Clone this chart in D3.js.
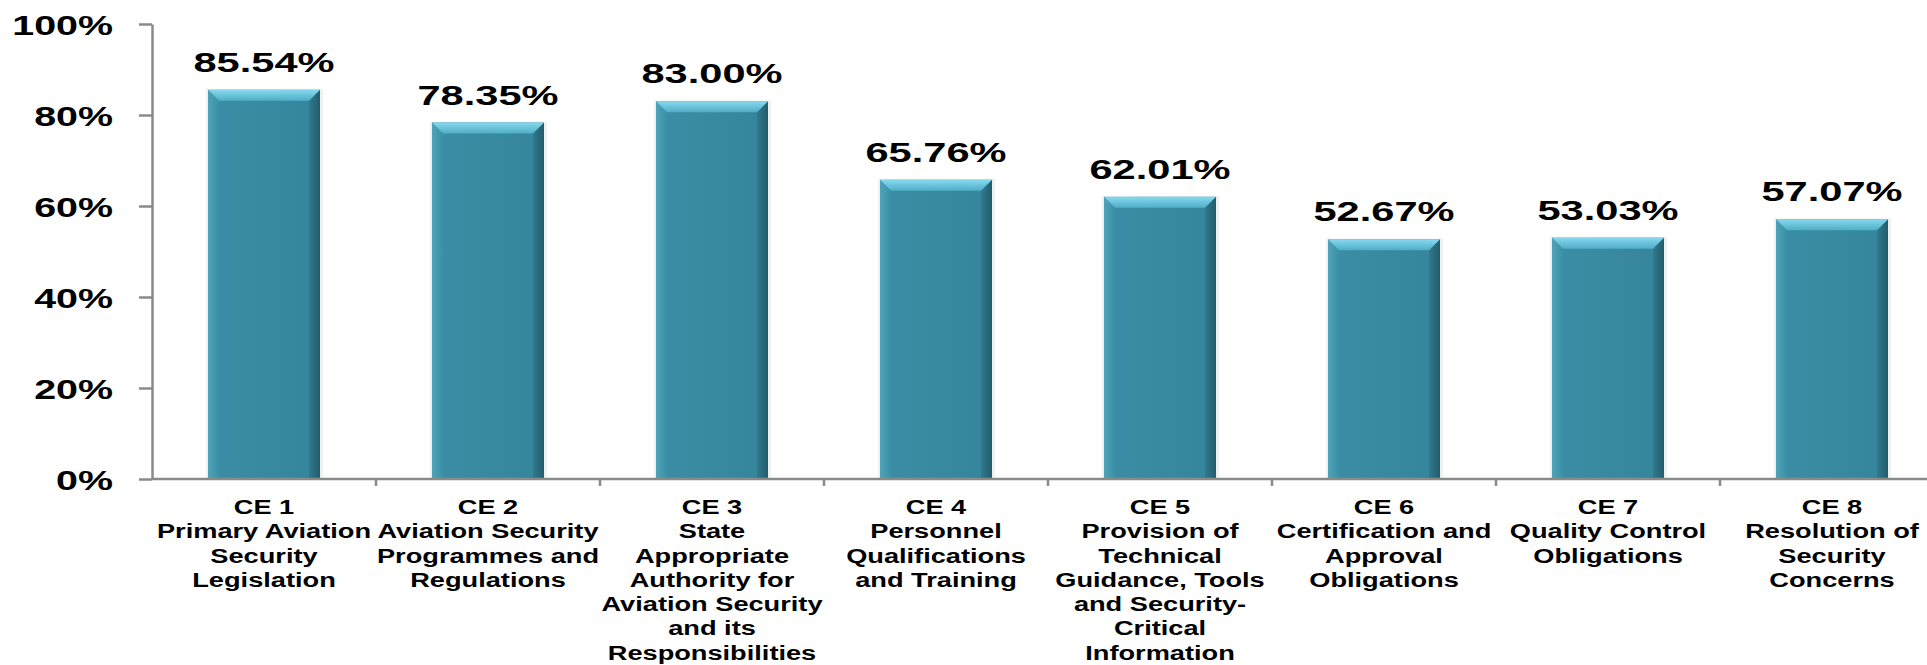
<!DOCTYPE html>
<html>
<head>
<meta charset="utf-8">
<script src="https://cdn.jsdelivr.net/npm/d3@7"></script>
<style>
  html, body { margin: 0; padding: 0; background: #fff; overflow: hidden; }
  text { font-family: "Liberation Sans", Arial, sans-serif; font-weight: bold; fill: #000; }
</style>
</head>
<body>
<svg id="chart" width="1927" height="665"></svg>
<script>
// chart data
const categories = ['CE 1', 'CE 2', 'CE 3', 'CE 4', 'CE 5', 'CE 6', 'CE 7', 'CE 8'];
const descriptions = [
  ['Primary Aviation', 'Security', 'Legislation'],
  ['Aviation Security', 'Programmes and', 'Regulations'],
  ['State', 'Appropriate', 'Authority for', 'Aviation Security', 'and its', 'Responsibilities'],
  ['Personnel', 'Qualifications', 'and Training'],
  ['Provision of', 'Technical', 'Guidance, Tools', 'and Security-', 'Critical', 'Information'],
  ['Certification and', 'Approval', 'Obligations'],
  ['Quality Control', 'Obligations'],
  ['Resolution of', 'Security', 'Concerns']
];
const values = [85.54, 78.35, 83.00, 65.76, 62.01, 52.67, 53.03, 57.07];
const yTicks = [0, 20, 40, 60, 80, 100];

const svg = d3.select('#chart');
// plot runs off the right edge like the source
const plotLeft = 152, plotTop = 24, plotBottom = 479, plotRight = 1944;

const x = d3.scaleBand().domain(categories).range([plotLeft, plotRight]).paddingInner(0.5).paddingOuter(0.25);
const y = d3.scaleLinear().domain([0, 100]).range([plotBottom, plotTop]);

// gradients for the bevelled bars
const defs = svg.append('defs');
const grad = (id, x2, y2, stops) => {
  const g = defs.append('linearGradient').attr('id', id)
    .attr('x1', 0).attr('y1', 0).attr('x2', x2).attr('y2', y2);
  stops.forEach(([o, c]) => g.append('stop').attr('offset', o).attr('stop-color', c));
};
grad('face', 1, 0, [[0, '#3a8ea5'], [0.5, '#388aa0'], [1, '#35859b']]);
grad('topBevel', 0, 1, [[0, '#86d9ee'], [1, '#4fadc7']]);
grad('rightBevel', 1, 0, [[0, '#32798d'], [1, '#235d6d']]);
grad('leftBevel', 1, 0, [[0, '#4ea3ba'], [1, '#3b90a7']]);

const bw = x.bandwidth();
const bev = 11;

const bars = svg.append('g').attr('class', 'bars')
  .selectAll('g').data(categories).join('g');

// soft shadow
bars.append('rect')
  .attr('x', c => x(c) - 2).attr('y', (c, i) => y(values[i]) - 1)
  .attr('width', bw + 5).attr('height', (c, i) => y(0) - y(values[i]) + 1)
  .attr('fill', '#000').attr('opacity', 0.06);

bars.append('rect')
  .attr('x', c => x(c)).attr('y', (c, i) => y(values[i]))
  .attr('width', bw).attr('height', (c, i) => y(0) - y(values[i]))
  .attr('fill', 'url(#face)');

bars.append('polygon')
  .attr('points', (c, i) => {
    const x0 = x(c), yt = y(values[i]), yb = y(0);
    return [[x0, yt], [x0 + bev, yt + bev], [x0 + bev, yb], [x0, yb]].join(' ');
  })
  .attr('fill', 'url(#leftBevel)');

bars.append('polygon')
  .attr('points', (c, i) => {
    const x1 = x(c) + bw, yt = y(values[i]), yb = y(0);
    return [[x1, yt], [x1 - bev, yt + bev], [x1 - bev, yb], [x1, yb]].join(' ');
  })
  .attr('fill', 'url(#rightBevel)');

bars.append('polygon')
  .attr('points', (c, i) => {
    const x0 = x(c), x1 = x0 + bw, yt = y(values[i]);
    return [[x0, yt], [x1, yt], [x1 - bev, yt + bev], [x0 + bev, yt + bev]].join(' ');
  })
  .attr('fill', 'url(#topBevel)');

// value labels
bars.append('text')
  .attr('transform', (c, i) => `translate(${x(c) + bw / 2},${y(values[i]) - 18}) scale(1.54,1)`)
  .attr('text-anchor', 'middle')
  .style('font-size', '27px')
  .text((c, i) => values[i].toFixed(2) + '%');

// y axis
const axisColor = '#8a8a8a';
const yAxis = svg.append('g')
  .attr('transform', `translate(${plotLeft},0)`)
  .call(d3.axisLeft(y).tickValues(yTicks).tickSize(13).tickSizeOuter(0).tickFormat(d => d + '%'));
yAxis.attr('font-size', null).attr('font-family', null);
yAxis.select('.domain').attr('stroke', axisColor).attr('stroke-width', 2.5);
yAxis.selectAll('.tick line').attr('stroke', axisColor).attr('stroke-width', 2.5);
yAxis.selectAll('.tick text')
  .attr('x', null).attr('dy', null)
  .attr('fill', '#000')
  .attr('transform', 'translate(-39,10) scale(1.46,1)')
  .style('font-size', '27px');

// x axis line with ticks on category boundaries
const xAxis = svg.append('g').attr('class', 'x-axis');
xAxis.append('line')
  .attr('x1', plotLeft).attr('x2', plotRight).attr('y1', y(0)).attr('y2', y(0))
  .attr('stroke', axisColor).attr('stroke-width', 2.5);
const boundaries = categories.map(c => x(c) - x.step() * 0.25).concat([plotRight]);
xAxis.selectAll('line.tick').data(boundaries.slice(1)).join('line')
  .attr('class', 'tick')
  .attr('x1', d => d).attr('x2', d => d)
  .attr('y1', y(0)).attr('y2', y(0) + 7)
  .attr('stroke', axisColor).attr('stroke-width', 2.5);

// category labels
const lineH = 24.3;
xAxis.selectAll('text.cat').data(categories).join('text')
  .attr('class', 'cat')
  .attr('text-anchor', 'middle')
  .attr('transform', c => `translate(${x(c) + bw / 2},514) scale(1.36,1)`)
  .style('font-size', '20px')
  .each(function (c, i) {
    const t = d3.select(this);
    [c].concat(descriptions[i]).forEach((line, k) => {
      t.append('tspan').attr('x', 0).attr('y', k * lineH).text(line);
    });
  });
</script>
</body>
</html>
